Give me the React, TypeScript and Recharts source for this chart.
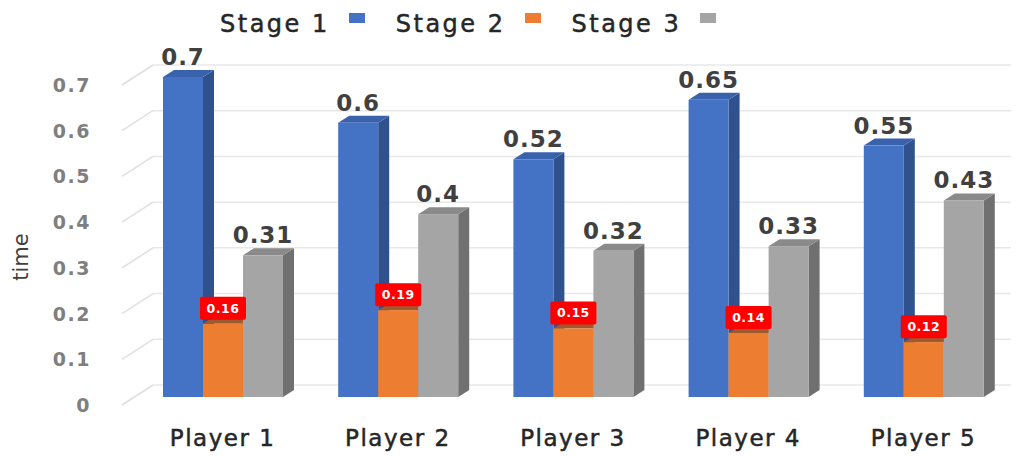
import React from 'react';
import { BarChart, Bar, XAxis, YAxis, CartesianGrid, Legend, LabelList } from 'recharts';

const players = ['Player 1', 'Player 2', 'Player 3', 'Player 4', 'Player 5'];
const stage1 = [0.7, 0.6, 0.52, 0.65, 0.55];
const stage2 = [0.16, 0.19, 0.15, 0.14, 0.12];
const stage3 = [0.31, 0.4, 0.32, 0.33, 0.43];
const yTicks = [0, 0.1, 0.2, 0.3, 0.4, 0.5, 0.6, 0.7];
const seriesNames = ['Stage 1', 'Stage 2', 'Stage 3'];

const data = players.map((name, i) => ({
  name,
  stage1: stage1[i],
  stage2: stage2[i],
  stage3: stage3[i],
}));

const colors = ['#4472C4', '#ED7D31', '#A5A5A5'];
const DX = 11;
const DY = 7;

// bar with a visible right side and top, like the excel 3d columns
const makeShape = (front: string, side: string, top: string) => (props: any) => {
  const { x, y, width, height } = props;
  if (!height || height <= 0) return <g />;
  const r = x + width;
  return (
    <g>
      <polygon
        points={`${r},${y} ${r + DX},${y - DY} ${r + DX},${y + height - DY} ${r},${y + height}`}
        fill={side}
      />
      <polygon points={`${x},${y} ${x + DX},${y - DY} ${r + DX},${y - DY} ${r},${y}`} fill={top} />
      <rect x={x} y={y} width={width} height={height} fill={front} />
    </g>
  );
};

const topLabel = (props: any) => {
  const { x, y, width, value } = props;
  return (
    <text
      x={x + width / 2}
      y={y - 12}
      textAnchor="middle"
      fontFamily="DejaVu Sans"
      fontWeight="bold"
      fontSize={23}
      letterSpacing={1}
      fill="#404040"
    >
      {value}
    </text>
  );
};

const redLabel = (props: any) => {
  const { x, y, width, value } = props;
  const cx = x + width / 2;
  return (
    <g>
      <rect x={cx - 23} y={y - 27} width={46} height={23} rx={2} fill="#FF0000" />
      <text
        x={cx}
        y={y - 11}
        textAnchor="middle"
        fontFamily="DejaVu Sans"
        fontWeight="bold"
        fontSize={12.5}
        letterSpacing={0.5}
        fill="#FFFFFF"
      >
        {value}
      </text>
    </g>
  );
};

const LegendBox = () => (
  <div
    style={{
      display: 'flex',
      alignItems: 'flex-start',
      height: 40,
      boxSizing: 'border-box',
      paddingTop: 6,
      paddingLeft: 220,
      fontFamily: 'DejaVu Sans',
      fontSize: 24,
      lineHeight: '36px',
      color: '#262626',
      letterSpacing: 2.5,
      WebkitTextStroke: '0.5px #262626',
    }}
  >
    {seriesNames.map((n, i) => (
      <React.Fragment key={n}>
        <span>{n}</span>
        <span
          style={{
            display: 'inline-block',
            width: 16,
            height: 10,
            background: colors[i],
            marginLeft: 19,
            marginRight: 31,
            marginTop: 7,
          }}
        />
      </React.Fragment>
    ))}
  </div>
);

const gridLine = (props: any) => {
  const { x1, x2, y1 } = props;
  return (
    <g key={`g-${y1}`}>
      <line x1={x1 - 13} y1={y1 + 8} x2={x1 + 18} y2={y1 - 12} stroke="#E0E0E0" strokeWidth={1.5} />
      <line x1={x1 + 18} y1={y1 - 12} x2={x2} y2={y1 - 12} stroke="#E8E8E8" strokeWidth={1.5} />
    </g>
  );
};

const yTick = (props: any) => {
  const { x, y, payload } = props;
  return (
    <text
      x={x - 36}
      y={y + 15}
      textAnchor="end"
      fontFamily="DejaVu Sans"
      fontWeight="bold"
      fontSize={19}
      letterSpacing={1.5}
      fill="#7F7F7F"
    >
      {payload.value}
    </text>
  );
};

const xTick = (props: any) => {
  const { x, y, payload } = props;
  return (
    <text
      x={x}
      y={y + 41}
      textAnchor="middle"
      fontFamily="DejaVu Sans"
      fontSize={23}
      letterSpacing={1.5}
      fill="#262626"
      stroke="#262626"
      strokeWidth={0.5}
    >
      {payload.value}
    </text>
  );
};

const timeLabel = (props: any) => {
  const vb = props.viewBox;
  const cy = vb.y + vb.height / 2 + 20;
  return (
    <text
      x={21}
      y={cy}
      transform={`rotate(-90, 21, ${cy})`}
      textAnchor="middle"
      dominantBaseline="central"
      fontFamily="DejaVu Sans"
      fontSize={21}
      fill="#404040"
    >
      time
    </text>
  );
};

export default function App() {
  return (
    <div style={{ position: 'absolute', left: 0, top: 0, background: '#fff' }}>
      <BarChart
        width={1021}
        height={456}
        data={data}
        margin={{ top: 37, right: 10, left: 0, bottom: 0 }}
        barSize={40}
        barGap={0}
      >
        <CartesianGrid vertical={false} horizontal={gridLine} />
        <Legend
          verticalAlign="top"
          height={40}
          content={<LegendBox />}
          wrapperStyle={{ top: 0, left: 0, width: 1021 }}
        />
        <XAxis dataKey="name" axisLine={false} tickLine={false} height={59} tick={xTick} interval={0} />
        <YAxis
          width={135}
          domain={[0, 0.7]}
          ticks={yTicks}
          axisLine={false}
          tickLine={false}
          tick={yTick}
          label={timeLabel}
        />
        <Bar dataKey="stage1" name={seriesNames[0]} isAnimationActive={false} shape={makeShape(colors[0], '#2F528F', '#3A62AC')}>
          <LabelList dataKey="stage1" content={topLabel} />
        </Bar>
        <Bar dataKey="stage2" name={seriesNames[1]} isAnimationActive={false} shape={makeShape(colors[1], '#B65B1F', '#9C5A2E')}>
          <LabelList dataKey="stage2" content={redLabel} />
        </Bar>
        <Bar dataKey="stage3" name={seriesNames[2]} isAnimationActive={false} shape={makeShape(colors[2], '#707070', '#8A8A8A')}>
          <LabelList dataKey="stage3" content={topLabel} />
        </Bar>
      </BarChart>
    </div>
  );
}
